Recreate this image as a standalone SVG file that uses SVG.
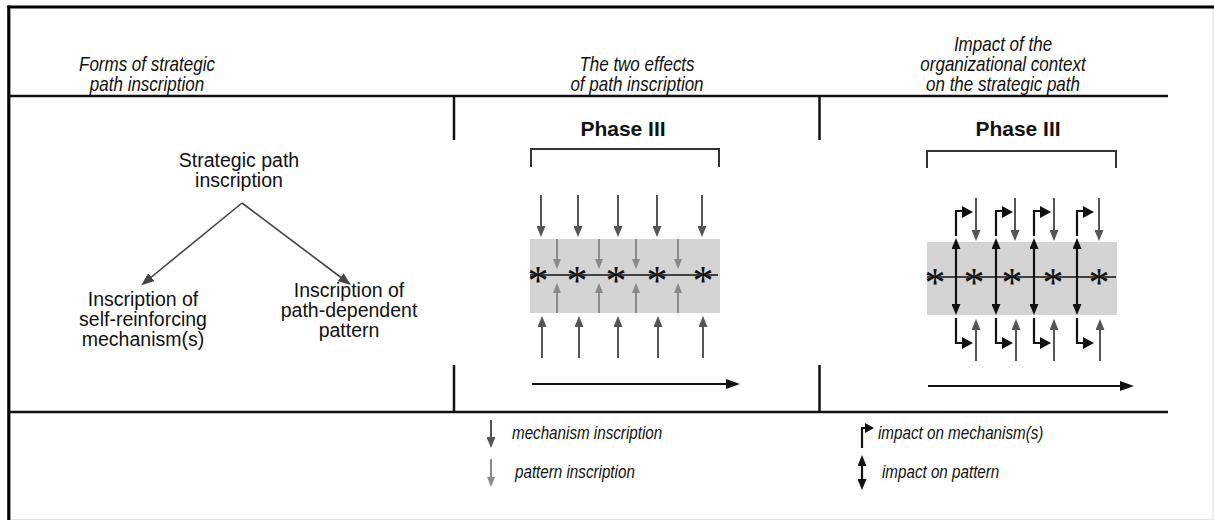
<svg xmlns="http://www.w3.org/2000/svg" width="1214" height="520" viewBox="0 0 1214 520">
<style>
.hdr{font-family:"Liberation Sans",Arial,sans-serif;font-style:italic;font-size:20px;fill:#111;text-anchor:middle}
.leg{font-family:"Liberation Sans",Arial,sans-serif;font-style:italic;font-size:19px;fill:#111}
.lbl{font-family:"Liberation Sans",Arial,sans-serif;font-size:19.5px;fill:#111;text-anchor:middle}
.ph{font-family:"Liberation Sans",Arial,sans-serif;font-size:21px;font-weight:bold;fill:#111;text-anchor:middle}
.ast{font-family:"Liberation Serif","Times New Roman",serif;font-size:42px;fill:#111;text-anchor:middle}
.rule{stroke:#111;stroke-width:2.5;fill:none}
.dk{stroke:#555;stroke-width:2;fill:none;marker-end:url(#hDk)}
.lt{stroke:#8a8a8a;stroke-width:2;fill:none;marker-end:url(#hLt)}
.bi{stroke:#111;stroke-width:2.2;fill:none;marker-end:url(#hBk);marker-start:url(#hBk)}
.flag{stroke:#111;stroke-width:2.2;fill:none}
.tri{fill:#111}
.br{stroke:#333;stroke-width:2;fill:none}
.time{stroke:#111;stroke-width:2;fill:none;marker-end:url(#hTime)}
.tree{stroke:#444;stroke-width:1.6;fill:none;marker-end:url(#hTree)}
</style>
<defs>
<marker id="hDk" viewBox="0 0 11 9" refX="3" refY="4.5" markerWidth="11" markerHeight="9" markerUnits="userSpaceOnUse" orient="auto"><path d="M0,0 L11,4.5 L0,9 z" fill="#555"/></marker>
<marker id="hLt" viewBox="0 0 10 8" refX="3" refY="4" markerWidth="10" markerHeight="8" markerUnits="userSpaceOnUse" orient="auto"><path d="M0,0 L10,4 L0,8 z" fill="#8a8a8a"/></marker>
<marker id="hBk" viewBox="0 0 11 9" refX="3" refY="4.5" markerWidth="11" markerHeight="9" markerUnits="userSpaceOnUse" orient="auto-start-reverse"><path d="M0,0 L11,4.5 L0,9 z" fill="#111"/></marker>
<marker id="hTime" viewBox="0 0 14 10" refX="3" refY="5" markerWidth="14" markerHeight="10" markerUnits="userSpaceOnUse" orient="auto"><path d="M0,0 L14,5 L0,10 z" fill="#111"/></marker>
<marker id="hTree" viewBox="0 0 13 10" refX="3" refY="5" markerWidth="13" markerHeight="10" markerUnits="userSpaceOnUse" orient="auto"><path d="M0,0 L13,5 L0,10 z" fill="#444"/></marker>
</defs>
<rect width="1214" height="520" fill="#fff"/>
<g id="frame">
<line x1="1213" y1="7" x2="1213" y2="520" stroke="#ddd" stroke-width="1"/>
<line x1="9" y1="519.5" x2="1214" y2="519.5" stroke="#e4e4e4" stroke-width="1"/>
<line x1="7.5" y1="7" x2="1214" y2="7" stroke="#000" stroke-width="3"/>
<line x1="8.7" y1="5.5" x2="8.7" y2="520" stroke="#000" stroke-width="3"/>
<line x1="10.5" y1="8.5" x2="10.5" y2="520" stroke="#999" stroke-width="1"/>
</g>
<g id="rules">
<line class="rule" x1="9" y1="96" x2="1168" y2="96"/>
<line class="rule" x1="9" y1="412" x2="1168" y2="412"/>
<line class="rule" x1="454" y1="96" x2="454" y2="140"/>
<line class="rule" x1="454" y1="365" x2="454" y2="412"/>
<line class="rule" x1="819.5" y1="96" x2="819.5" y2="140"/>
<line class="rule" x1="819.5" y1="365" x2="819.5" y2="412"/>
</g>
<g id="header1">
<text class="hdr" x="147" y="71" transform="matrix(0.85,0,0,1,22.05,0)">Forms of strategic</text>
<text class="hdr" x="147" y="91" transform="matrix(0.85,0,0,1,22.05,0)">path inscription</text>
</g>
<g id="header2">
<text class="hdr" x="637" y="71" transform="matrix(0.85,0,0,1,95.55,0)">The two effects</text>
<text class="hdr" x="637" y="91" transform="matrix(0.85,0,0,1,95.55,0)">of path inscription</text>
</g>
<g id="header3">
<text class="hdr" x="1003" y="51" transform="matrix(0.85,0,0,1,150.45,0)">Impact of the</text>
<text class="hdr" x="1003" y="71" transform="matrix(0.85,0,0,1,150.45,0)">organizational context</text>
<text class="hdr" x="1003" y="91" transform="matrix(0.85,0,0,1,150.45,0)">on the strategic path</text>
</g>
<g id="node-root">
<text class="lbl" x="239" y="167">Strategic path</text>
<text class="lbl" x="239" y="187">inscription</text>
</g>
<g id="node-mechanism">
<text class="lbl" x="143" y="306">Inscription of</text>
<text class="lbl" x="143" y="326">self-reinforcing</text>
<text class="lbl" x="143" y="346">mechanism(s)</text>
</g>
<g id="node-pattern">
<text class="lbl" x="349" y="297">Inscription of</text>
<text class="lbl" x="349" y="317">path-dependent</text>
<text class="lbl" x="349" y="337">pattern</text>
</g>
<g id="connectors">
<line class="tree" x1="242" y1="203" x2="149" y2="279"/>
<line class="tree" x1="242" y1="203" x2="343" y2="279"/>
</g>
<g id="phase-mid">
<text class="ph" x="623" y="136">Phase III</text>
<path class="br" d="M531,167 V149 H719 V167"/>
<rect x="530" y="239" width="190" height="74" fill="#d4d4d4"/>
<line x1="530" y1="275" x2="718" y2="275" stroke="#111" stroke-width="1.6"/>
<g id="mid-asterisks">
<text class="ast" x="538" y="295">*</text>
<text class="ast" x="577" y="295">*</text>
<text class="ast" x="616" y="295">*</text>
<text class="ast" x="657" y="295">*</text>
<text class="ast" x="703" y="295">*</text>
</g>
<g id="mid-arrows">
<line class="dk" x1="541" y1="195" x2="541" y2="229"/>
<line class="dk" x1="578" y1="195" x2="578" y2="229"/>
<line class="dk" x1="618" y1="195" x2="618" y2="229"/>
<line class="dk" x1="657" y1="195" x2="657" y2="229"/>
<line class="dk" x1="702" y1="195" x2="702" y2="229"/>
<line class="dk" x1="542" y1="358" x2="542" y2="324"/>
<line class="dk" x1="579" y1="358" x2="579" y2="324"/>
<line class="dk" x1="618" y1="358" x2="618" y2="324"/>
<line class="dk" x1="658" y1="358" x2="658" y2="324"/>
<line class="dk" x1="703" y1="358" x2="703" y2="324"/>
<line class="lt" x1="557" y1="239" x2="557" y2="262"/>
<line class="lt" x1="599" y1="239" x2="599" y2="262"/>
<line class="lt" x1="636" y1="239" x2="636" y2="262"/>
<line class="lt" x1="678" y1="239" x2="678" y2="262"/>
<line class="lt" x1="557" y1="313" x2="557" y2="290"/>
<line class="lt" x1="599" y1="313" x2="599" y2="290"/>
<line class="lt" x1="636" y1="313" x2="636" y2="290"/>
<line class="lt" x1="678" y1="313" x2="678" y2="290"/>
<line class="time" x1="532" y1="384" x2="729" y2="384"/>
</g>
</g>
<g id="phase-right">
<text class="ph" x="1018" y="136">Phase III</text>
<path class="br" d="M927,168 V151 H1116 V168"/>
<rect x="927" y="242" width="190" height="73" fill="#d4d4d4"/>
<line x1="927" y1="277" x2="1116" y2="277" stroke="#111" stroke-width="1.6"/>
<g id="right-asterisks">
<text class="ast" x="935" y="297">*</text>
<text class="ast" x="974" y="297">*</text>
<text class="ast" x="1012" y="297">*</text>
<text class="ast" x="1053" y="297">*</text>
<text class="ast" x="1099" y="297">*</text>
</g>
<g id="right-arrows">
<line class="bi" x1="956" y1="246" x2="956" y2="307"/>
<line class="bi" x1="996" y1="246" x2="996" y2="307"/>
<line class="bi" x1="1034" y1="246" x2="1034" y2="307"/>
<line class="bi" x1="1077" y1="246" x2="1077" y2="307"/>
<path class="flag" d="M956,236 V211 H963 M996,236 V211 H1003 M1034,236 V211 H1041 M1077,236 V211 H1084"/>
<path class="tri" d="M962,206 L973,212 L962,218 z M1002,206 L1013,212 L1002,218 z M1040,206 L1051,212 L1040,218 z M1083,206 L1094,212 L1083,218 z"/>
<path class="flag" d="M956,318 V343 H963 M996,318 V343 H1003 M1034,318 V343 H1041 M1077,318 V343 H1084"/>
<path class="tri" d="M962,337 L973,343 L962,349 z M1002,337 L1013,343 L1002,349 z M1040,337 L1051,343 L1040,349 z M1083,337 L1094,343 L1083,349 z"/>
<line class="dk" x1="976" y1="198" x2="976" y2="233"/>
<line class="dk" x1="1015" y1="198" x2="1015" y2="233"/>
<line class="dk" x1="1054" y1="198" x2="1054" y2="233"/>
<line class="dk" x1="1099" y1="198" x2="1099" y2="233"/>
<line class="dk" x1="976" y1="361" x2="976" y2="327"/>
<line class="dk" x1="1016" y1="361" x2="1016" y2="327"/>
<line class="dk" x1="1054" y1="361" x2="1054" y2="327"/>
<line class="dk" x1="1100" y1="361" x2="1100" y2="327"/>
<line class="time" x1="928" y1="386" x2="1123" y2="386"/>
</g>
</g>
<g id="legend">
<line class="dk" x1="491" y1="420" x2="491" y2="440"/>
<text class="leg" x="512" y="439" transform="matrix(0.8,0,0,1,102.4,0)">mechanism inscription</text>
<line class="lt" x1="491" y1="459" x2="491" y2="480"/>
<text class="leg" x="515" y="478" transform="matrix(0.8,0,0,1,103,0)">pattern inscription</text>
<path class="flag" d="M862,448 V428 H866"/>
<path class="tri" d="M865,423 L874,428 L865,433 z"/>
<text class="leg" x="878" y="439" transform="matrix(0.8,0,0,1,175.6,0)">impact on mechanism(s)</text>
<line class="bi" x1="862" y1="463" x2="862" y2="482"/>
<text class="leg" x="882" y="478" transform="matrix(0.8,0,0,1,176.4,0)">impact on pattern</text>
</g>
</svg>
